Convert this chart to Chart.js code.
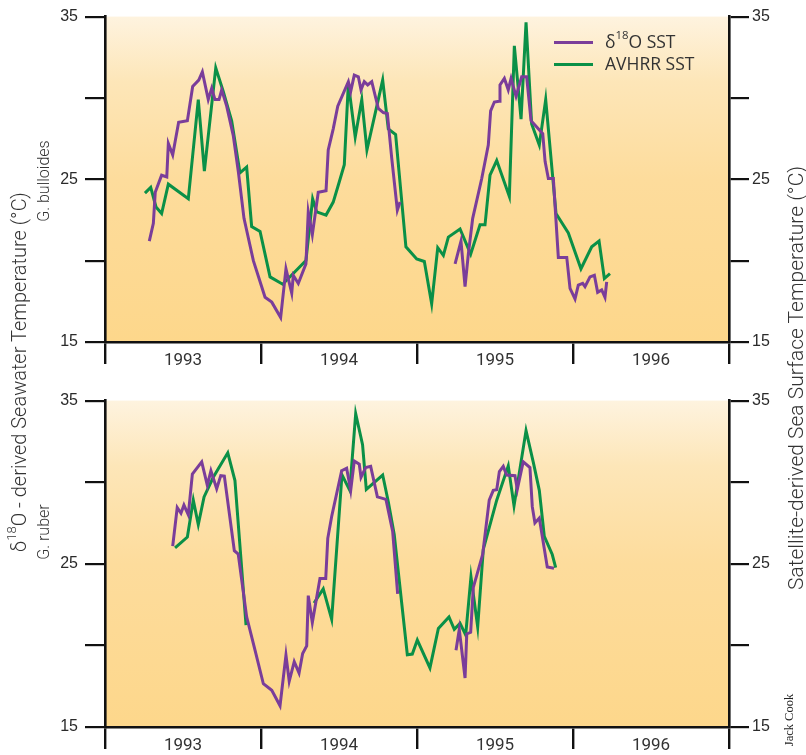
<!DOCTYPE html>
<html>
<head>
<meta charset="utf-8">
<script src="https://cdn.jsdelivr.net/npm/chart.js@4.4.1/dist/chart.umd.min.js"></script>
<style>
  html, body { margin: 0; padding: 0; background: #ffffff; }
  body { width: 806px; height: 755px; position: relative; overflow: hidden; }
  .cv { position: absolute; left: 0; }
  .rot { position: absolute; white-space: nowrap; transform: translate(-50%, -50%) rotate(-90deg); color: #333; }
  .title { font-family: Roboto, "Liberation Sans", sans-serif; font-weight: 300; font-size: 20px; }
  .title2 { font-family: Roboto, "Liberation Sans", sans-serif; font-weight: 300; font-size: 21px; }
  .sub { font-family: Roboto, "Liberation Sans", sans-serif; font-weight: 300; font-size: 16px; }
  .credit { font-family: "Liberation Serif", serif; font-size: 12.5px; color: #222; }
  sup { font-size: 65%; line-height: 0; position: relative; top: -0.15em; vertical-align: super; }
  #legend { position: absolute; left: 554px; top: 30px; font-family: "Open Sans", "Noto Sans", sans-serif; font-size: 17.5px; color: #333; }
  #legend .row { position: relative; height: 22px; line-height: 22px; }
  #legend .sw { position: absolute; left: 0; top: 11px; width: 39px; height: 3px; }
  #legend .tx { position: absolute; left: 51px; top: 0; white-space: nowrap; }
</style>
</head>
<body>
<canvas id="c1" class="cv" width="806" height="376" style="top:0px;width:806px;height:376px"></canvas>
<canvas id="c2" class="cv" width="806" height="371" style="top:384px;width:806px;height:371px"></canvas>

<div class="rot title" style="left:19px;top:372px">δ<sup>18</sup>O - derived Seawater Temperature (°C)</div>
<div class="rot sub" style="left:43px;top:181px">G. bulloides</div>
<div class="rot sub" style="left:43px;top:532px">G. ruber</div>
<div class="rot title2" style="left:796px;top:378px">Satellite-derived Sea Surface Temperature (°C)</div>
<div class="rot credit" style="left:789px;top:720px">Jack Cook</div>

<div id="legend">
  <div class="row"><span class="sw" style="background:#7A3D9A"></span><span class="tx">δ<sup>18</sup>O SST</span></div>
  <div class="row"><span class="sw" style="background:#0A9047"></span><span class="tx">AVHRR SST</span></div>
</div>

<script>
// ---------------- DATA ----------------
const yearLabels = ['1993', '1994', '1995', '1996'];
const yearBoundaries = [1993, 1994, 1995, 1996, 1997];
const tempTicks = [15, 20, 25, 30, 35];
const tempLabels = [15, 25, 35];
const seriesNames = ['δ18O SST', 'AVHRR SST'];

// Top panel: G. bulloides  [decimal year, °C]  (null = gap)
const bulloidesD18O = [
  [1993.284,21.2],[1993.310,22.3],[1993.322,24.2],[1993.363,25.25],[1993.396,25.15],[1993.406,27.2],
  [1993.434,26.5],[1993.472,28.5],[1993.528,28.6],[1993.562,30.7],[1993.601,31.1],[1993.624,31.6],
  [1993.662,29.9],[1993.684,30.6],[1993.705,29.9],[1993.731,29.9],[1993.748,30.5],[1993.780,29.5],
  [1993.822,27.7],[1993.855,25.45],[1993.891,22.6],[1993.951,20.0],[1994.026,17.75],[1994.069,17.45],
  [1994.126,16.5],[1994.160,19.5],[1994.197,18.0],[1994.207,19.1],[1994.239,18.6],[1994.288,19.8],
  [1994.303,23.0],[1994.329,21.6],[1994.367,24.2],[1994.417,24.3],[1994.431,26.8],[1994.463,28.1],
  [1994.492,29.5],[1994.560,31.0],[1994.575,30.4],[1994.598,31.4],[1994.624,31.3],[1994.641,30.5],
  [1994.662,31.0],[1994.684,30.8],[1994.710,31.0],[1994.752,29.35],[1994.784,29.1],[1994.810,29.05],
  [1994.838,26.3],[1994.874,23.1],[1994.891,23.6],
  [1995.050,null],
  [1995.244,19.8],[1995.282,21.2],[1995.308,18.4],[1995.329,20.4],[1995.357,22.6],[1995.415,25.05],
  [1995.457,27.1],[1995.472,29.2],[1995.496,29.75],[1995.526,29.8],[1995.532,30.8],[1995.560,31.2],
  [1995.585,30.5],[1995.603,31.2],[1995.635,30.1],[1995.671,31.3],[1995.703,31.3],[1995.731,28.6],
  [1995.806,27.8],[1995.821,26.1],[1995.842,25.05],[1995.874,25.05],[1995.906,20.2],[1995.960,20.2],
  [1995.981,18.3],[1996.013,17.65],[1996.034,18.5],[1996.062,18.6],[1996.077,18.4],[1996.109,19.0],
  [1996.137,19.1],[1996.158,18.05],[1996.184,18.2],[1996.205,17.75],[1996.216,18.7]
];
const bulloidesAVHRR = [
  [1993.256,24.15],[1993.293,24.5],[1993.327,23.3],[1993.363,22.9],[1993.406,24.7],[1993.534,23.8],
  [1993.598,29.9],[1993.637,25.5],[1993.710,31.85],[1993.758,30.4],[1993.812,28.6],[1993.865,25.4],
  [1993.908,25.75],[1993.940,22.1],[1993.994,21.8],[1994.058,19.0],[1994.139,18.55],[1994.288,20.0],
  [1994.331,23.8],[1994.357,23.0],[1994.417,22.8],[1994.463,23.6],[1994.502,24.85],[1994.534,25.9],
  [1994.560,30.9],[1994.604,27.6],[1994.646,29.9],[1994.679,26.8],[1994.780,31.1],[1994.816,28.1],
  [1994.863,27.75],[1994.929,20.85],[1994.998,20.1],[1995.047,19.95],[1995.094,17.35],[1995.133,20.8],
  [1995.169,20.33],[1995.201,21.45],[1995.276,21.95],[1995.344,20.4],[1995.404,22.2],[1995.436,22.2],
  [1995.468,25.25],[1995.511,26.15],[1995.592,23.95],[1995.624,33.2],[1995.667,28.7],[1995.699,34.65],
  [1995.735,28.4],[1995.784,27.1],[1995.825,29.9],[1995.891,22.9],[1995.970,21.7],[1996.051,19.5],
  [1996.120,20.85],[1996.167,21.2],[1996.201,18.9],[1996.237,19.2]
];

// Bottom panel: G. ruber
const ruberD18O = [
  [1993.434,26.08],[1993.463,28.45],[1993.487,28.1],[1993.506,28.6],[1993.534,28.0],[1993.560,30.5],
  [1993.620,31.25],[1993.656,29.8],[1993.679,30.7],[1993.716,29.6],[1993.742,30.4],[1993.765,30.37],
  [1993.829,25.8],[1993.854,25.6],[1993.908,21.75],[1993.962,19.7],[1994.015,17.65],[1994.069,17.25],
  [1994.122,16.3],[1994.160,19.4],[1994.181,17.8],[1994.213,19.0],[1994.244,18.3],[1994.267,19.5],
  [1994.293,19.97],[1994.303,23.05],[1994.329,21.4],[1994.378,24.1],[1994.415,24.1],[1994.428,26.56],
  [1994.453,27.9],[1994.517,30.7],[1994.549,30.85],[1994.575,29.5],[1994.598,31.3],[1994.630,31.1],
  [1994.641,30.3],[1994.671,30.9],[1994.703,30.97],[1994.746,29.1],[1994.801,28.95],[1994.844,26.98],
  [1994.876,23.15],
  [1995.050,null],
  [1995.250,19.7],[1995.271,20.98],[1995.308,18.0],[1995.319,20.7],[1995.344,20.8],[1995.361,23.55],
  [1995.421,25.57],[1995.463,28.9],[1995.489,29.5],[1995.511,29.54],[1995.528,30.65],[1995.553,30.97],
  [1995.575,30.44],[1995.628,30.4],[1995.643,29.56],[1995.681,31.25],[1995.724,30.9],[1995.739,28.5],
  [1995.756,27.5],[1995.784,27.8],[1995.835,24.8],[1995.878,24.73]
];
const ruberAVHRR = [
  [1993.449,25.97],[1993.528,26.64],[1993.566,28.9],[1993.598,27.4],[1993.635,29.1],[1993.694,30.3],
  [1993.787,31.8],[1993.833,30.1],[1993.904,21.24],
  [1994.100,null],
  [1994.340,22.6],[1994.399,23.46],[1994.453,21.6],[1994.519,30.45],[1994.569,29.5],[1994.607,34.2],
  [1994.651,32.3],[1994.675,29.56],[1994.780,30.44],[1994.816,28.8],[1994.854,26.8],[1994.938,19.43],
  [1994.970,19.47],[1995.002,20.33],[1995.083,18.62],[1995.137,21.04],[1995.205,21.74],[1995.239,20.98],
  [1995.276,21.35],[1995.312,20.64],[1995.346,24.2],[1995.389,21.14],[1995.425,25.88],[1995.511,28.9],
  [1995.585,31.0],[1995.622,28.55],[1995.699,33.16],[1995.746,31.2],[1995.784,29.5],[1995.816,26.68],
  [1995.867,25.57],[1995.889,24.77]
];

// ---------------- STYLE / CHARTS ----------------
const PURPLE = '#7A3D9A';
const GREEN = '#0A9047';
const AXIS = '#111111';

const bgPlugin = {
  id: 'panelBg',
  beforeDraw(chart) {
    const a = chart.chartArea;
    const ctx = chart.ctx;
    const g = ctx.createLinearGradient(0, a.top, 0, a.bottom);
    g.addColorStop(0, '#FEF3DF');
    g.addColorStop(0.2, '#FDE6B8');
    g.addColorStop(0.5, '#FDDC9C');
    g.addColorStop(1, '#FDD78B');
    ctx.save();
    ctx.fillStyle = g;
    ctx.fillRect(a.left, a.top, a.right - a.left, a.bottom - a.top);
    ctx.restore();
  }
};

function toPts(arr) { return arr.map(p => ({ x: p[0], y: p[1] })); }

function makeChart(id, d18o, avhrr, xAxisHeight) {
  const yCommon = (side, width, pad) => ({
    type: 'linear', position: side, min: 15, max: 35,
    afterBuildTicks: s => { s.ticks = tempTicks.map(v => ({ value: v })); },
    afterFit: s => { s.width = width; },
    ticks: {
      autoSkip: false, padding: pad, color: '#2a2a2a',
      font: { family: '"Liberation Sans", Arial, sans-serif', size: 16 },
      callback: v => tempLabels.includes(v) ? String(v) : ''
    },
    grid: { drawOnChartArea: false, drawTicks: true, tickLength: 20, color: AXIS, lineWidth: 2.2 },
    border: { display: true, color: AXIS, width: 2.6 }
  });
  return new Chart(document.getElementById(id), {
    type: 'line',
    data: {
      datasets: [
        { label: seriesNames[0], data: toPts(d18o), borderColor: PURPLE, borderWidth: 3, pointRadius: 0, tension: 0, spanGaps: false, borderJoinStyle: 'miter', fill: false },
        { label: seriesNames[1], data: toPts(avhrr), borderColor: GREEN, borderWidth: 3, pointRadius: 0, tension: 0, spanGaps: false, borderJoinStyle: 'miter', fill: false }
      ]
    },
    options: {
      responsive: false, animation: false, devicePixelRatio: 1,
      layout: { padding: { top: 14, left: 0, right: 0, bottom: 0 } },
      plugins: { legend: { display: false }, tooltip: { enabled: false } },
      scales: {
        x: {
          type: 'linear', position: 'bottom', min: 1993, max: 1997,
          afterBuildTicks: s => {
            const t = [];
            yearBoundaries.forEach((b, i) => { t.push({ value: b }); if (i < yearLabels.length) t.push({ value: b + 0.5 }); });
            s.ticks = t;
          },
          afterFit: s => { s.height = xAxisHeight; },
          ticks: {
            autoSkip: false, maxRotation: 0, padding: -13, color: '#333',
            font: { family: 'Roboto, "Liberation Sans", sans-serif', size: 17 },
            callback: v => (v % 1 !== 0) ? yearLabels[Math.floor(v) - 1993] : ''
          },
          grid: {
            drawOnChartArea: false, drawTicks: true, tickLength: 22, lineWidth: 2.4,
            color: c => (c.tick && c.tick.value % 1 === 0) ? AXIS : 'rgba(0,0,0,0)'
          },
          border: { display: true, color: AXIS, width: 2.6 }
        },
        y: yCommon('left', 105, 7),
        y2: yCommon('right', 77, 3)
      }
    },
    plugins: [bgPlugin]
  });
}

makeChart('c1', bulloidesD18O, bulloidesAVHRR, 34);
makeChart('c2', ruberD18O, ruberAVHRR, 28);
</script>
</body>
</html>
